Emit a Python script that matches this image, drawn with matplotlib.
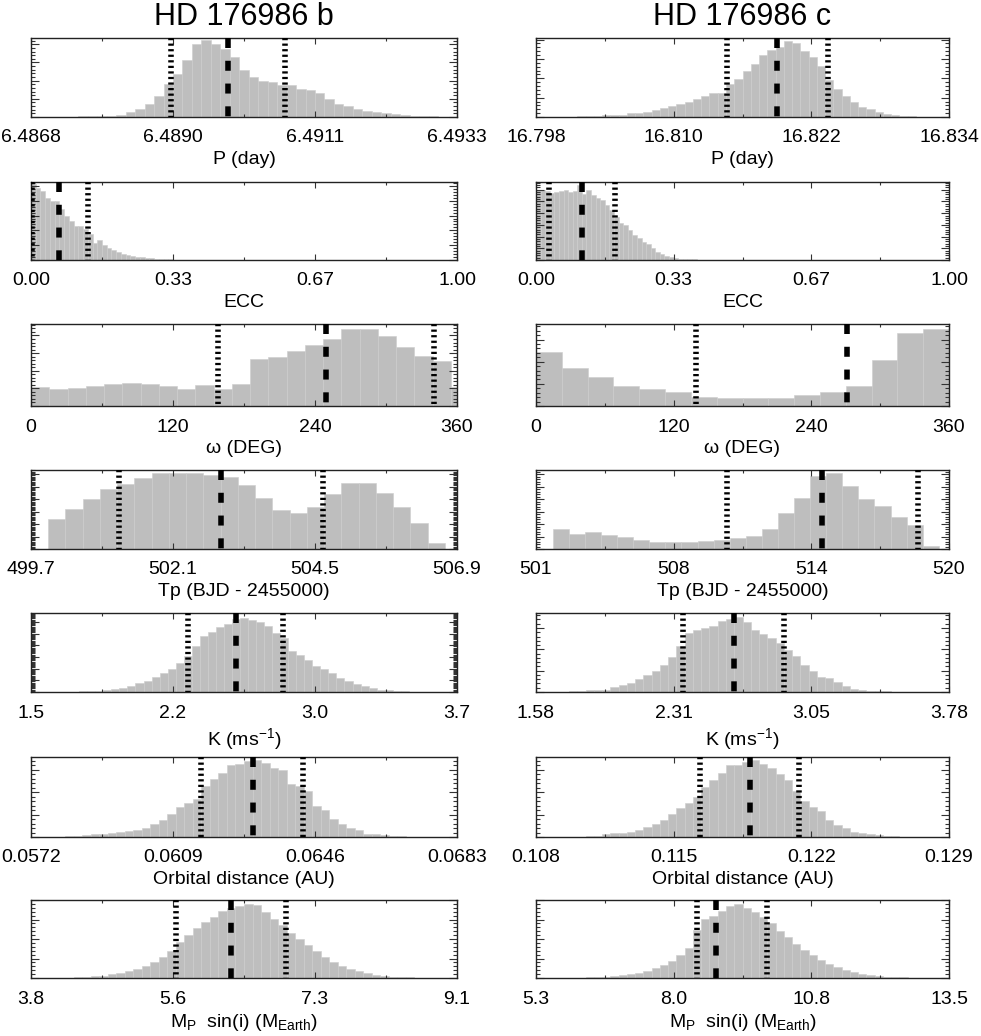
import numpy as np
import matplotlib
matplotlib.use('Agg')
import matplotlib.pyplot as plt
from matplotlib.ticker import MultipleLocator, AutoMinorLocator

plt.rcParams['font.family'] = ['Liberation Sans', 'DejaVu Sans']
plt.rcParams['mathtext.fontset'] = 'custom'
plt.rcParams['mathtext.rm'] = 'Liberation Sans'
plt.rcParams['mathtext.it'] = 'Liberation Sans:italic'

planets = ['HD 176986 b', 'HD 176986 c']
xlabels = ['P (day)', 'ECC', 'ω (DEG)', 'Tp (BJD - 2455000)', 'K (ms$^{-1}$)',
           'Orbital distance (AU)', r'M$_{\rm P}$  sin(i) (M$_{\rm Earth}$)']

# ---- period ----
p_b_range = (6.4868, 6.4933)
p_b_ticks = ['6.4868', '6.4890', '6.4911', '6.4933']
p_b_bins = (6.4868, 0.0065 / 45)
p_b_counts = [0.0, 0.002, 0.003, 0.004, 0.005, 0.007, 0.009, 0.012, 0.016, 0.022,
              0.06, 0.10, 0.165, 0.27, 0.42, 0.54, 0.72, 0.93, 0.97, 0.93,
              0.865, 0.755, 0.60, 0.50, 0.455, 0.44, 0.41, 0.40, 0.36, 0.345,
              0.30, 0.23, 0.17, 0.135, 0.10, 0.075, 0.06, 0.055, 0.04, 0.025,
              0.017, 0.012, 0.008, 0.004]
p_b_lines = (6.48894, 6.48981, 6.49067)

p_c_range = (16.798, 16.834)
p_c_ticks = ['16.798', '16.810', '16.822', '16.834']
p_c_bins = (16.798, 0.00072)
p_c_counts = [0.0, 0.002, 0.003, 0.004, 0.005, 0.007, 0.009, 0.015, 0.02, 0.025,
              0.03, 0.045, 0.05, 0.065, 0.09, 0.12, 0.14, 0.165, 0.195, 0.225,
              0.26, 0.30, 0.31, 0.42, 0.485, 0.58, 0.67, 0.79, 0.85, 0.89,
              0.965, 0.935, 0.83, 0.755, 0.65, 0.47, 0.355, 0.27, 0.185, 0.125,
              0.10, 0.06, 0.035, 0.02, 0.012, 0.008, 0.005, 0.003, 0.002, 0.001]
p_c_lines = (16.81465, 16.81904, 16.82342)

# ---- eccentricity ----
ecc_range = (0.0, 1.0)
ecc_ticks = ['0.00', '0.33', '0.67', '1.00']
ecc_bins = (0.0, 1.0 / 90)
ecc_b_counts = [0.97, 0.92, 0.88, 0.79, 0.76, 0.75, 0.66, 0.56, 0.50, 0.44,
                0.435, 0.40, 0.33, 0.22, 0.25, 0.195, 0.16, 0.13, 0.10, 0.075,
                0.065, 0.045, 0.036, 0.034, 0.026, 0.021, 0.014, 0.01, 0.008, 0.007,
                0.006, 0.005, 0.005, 0.004, 0.004, 0.003, 0.003, 0.003, 0.002, 0.002,
                0.002]
ecc_b_lines = (0.003, 0.0665, 0.1337)
ecc_c_counts = [0.90, 0.90, 0.885, 0.86, 0.87, 0.89, 0.90, 0.875, 0.89, 0.965,
                0.85, 0.90, 0.83, 0.80, 0.765, 0.70, 0.64, 0.55, 0.48, 0.45,
                0.38, 0.32, 0.28, 0.235, 0.20, 0.16, 0.105, 0.077, 0.05, 0.034,
                0.026, 0.017, 0.013, 0.009, 0.007, 0.006, 0.005, 0.004, 0.004, 0.003,
                0.003, 0.002, 0.002, 0.002, 0.001]
ecc_c_lines = (0.032, 0.112, 0.191)

# ---- argument of periastron ----
w_range = (0.0, 360.0)
w_ticks = ['0', '120', '240', '360']
w_b_bins = (0.0, 15.43)
w_b_counts = [0.23, 0.205, 0.215, 0.245, 0.265, 0.275, 0.265, 0.245, 0.205, 0.255,
              0.205, 0.265, 0.575, 0.595, 0.665, 0.74, 0.815, 0.94, 0.94, 0.85,
              0.725, 0.605, 0.55, 0.23]
w_b_lines = (157.9, 249.4, 340.6)
w_c_bins = (0.0, 22.5)
w_c_counts = [0.66, 0.46, 0.355, 0.245, 0.21, 0.175, 0.115, 0.10, 0.095, 0.095,
              0.135, 0.165, 0.24, 0.555, 0.895, 0.945]
w_c_lines = (139.2, 270.8, None)

# ---- time of periastron ----
tp_b_range = (499.7, 506.9)
tp_b_ticks = ['499.7', '502.1', '504.5', '506.9']
tp_b_bins = (499.99, 0.2916)
tp_b_counts = [0.375, 0.505, 0.635, 0.76, 0.825, 0.895, 0.96, 0.965, 0.965, 0.935,
               0.915, 0.81, 0.64, 0.495, 0.45, 0.535, 0.70, 0.83, 0.84, 0.705,
               0.535, 0.335, 0.07]
tp_b_lines = (501.19, 502.91, 504.64)

tp_c_range = (501.4, 519.9)
tp_c_ticks = ['501', '508', '514', '520']
tp_c_bins = (502.15, 0.7205)
tp_c_counts = [0.25, 0.185, 0.21, 0.18, 0.15, 0.115, 0.085, 0.085, 0.09, 0.095,
               0.115, 0.14, 0.16, 0.25, 0.46, 0.65, 0.925, 0.965, 0.80, 0.63,
               0.55, 0.41, 0.305, 0.04]
tp_c_lines = (509.96, 514.23, 518.50)

# ---- semi-amplitude ----
k_b_range = (1.5, 3.7)
k_b_ticks = ['1.5', '2.2', '3.0', '3.7']
k_b_bins = (1.5, 2.2 / 53)
k_b_counts = [0.0, 0.001, 0.002, 0.003, 0.004, 0.006, 0.008, 0.012, 0.017, 0.025,
              0.035, 0.05, 0.075, 0.11, 0.145, 0.19, 0.235, 0.285, 0.37, 0.46,
              0.58, 0.71, 0.76, 0.82, 0.86, 0.93, 0.94, 0.91, 0.88, 0.83,
              0.75, 0.68, 0.52, 0.47, 0.40, 0.33, 0.29, 0.24, 0.18, 0.14,
              0.10, 0.07, 0.045, 0.03, 0.02, 0.013, 0.009, 0.006, 0.004, 0.003,
              0.002, 0.001]
k_b_lines = (2.312, 2.558, 2.802)

k_c_range = (1.58, 3.78)
k_c_ticks = ['1.58', '2.31', '3.05', '3.78']
k_c_bins = (1.58, 0.044)
k_c_counts = [0.0, 0.002, 0.004, 0.006, 0.008, 0.018, 0.02, 0.022, 0.025, 0.065,
              0.09, 0.12, 0.165, 0.215, 0.27, 0.345, 0.44, 0.58, 0.745, 0.78,
              0.805, 0.83, 0.895, 0.93, 0.955, 0.88, 0.78, 0.735, 0.685, 0.62,
              0.535, 0.46, 0.345, 0.26, 0.185, 0.177, 0.125, 0.08, 0.04, 0.03,
              0.017, 0.012, 0.008, 0.005, 0.003, 0.002, 0.001, 0.001]
k_c_lines = (2.365, 2.637, 2.901)

# ---- orbital distance ----
a_b_range = (0.0572, 0.0683)
a_b_ticks = ['0.0572', '0.0609', '0.0646', '0.0683']
a_b_bins = (0.0572, 0.000222)
a_b_counts = [0.0, 0.002, 0.004, 0.006, 0.01, 0.016, 0.025, 0.033, 0.04, 0.055,
              0.06, 0.075, 0.09, 0.115, 0.165, 0.215, 0.285, 0.375, 0.425, 0.48,
              0.635, 0.72, 0.805, 0.905, 0.91, 0.95, 0.96, 0.925, 0.86, 0.84,
              0.665, 0.64, 0.575, 0.39, 0.34, 0.23, 0.16, 0.115, 0.085, 0.04,
              0.033, 0.02, 0.013, 0.008, 0.005, 0.003, 0.002, 0.001]
a_b_lines = (0.061635, 0.06298, 0.06429)

a_c_range = (0.108, 0.129)
a_c_ticks = ['0.108', '0.115', '0.122', '0.129']
a_c_bins = (0.108, 0.00042)
a_c_counts = [0.0, 0.001, 0.002, 0.003, 0.004, 0.006, 0.008, 0.012, 0.033, 0.045,
              0.05, 0.06, 0.085, 0.13, 0.165, 0.215, 0.285, 0.36, 0.425, 0.50,
              0.625, 0.71, 0.80, 0.895, 0.895, 0.94, 0.96, 0.91, 0.865, 0.79,
              0.715, 0.57, 0.45, 0.375, 0.325, 0.215, 0.145, 0.115, 0.06, 0.05,
              0.033, 0.02, 0.013, 0.008, 0.005, 0.003, 0.002, 0.001]
a_c_lines = (0.11634, 0.1189, 0.12139)

# ---- minimum mass ----
m_b_range = (3.8, 9.1)
m_b_ticks = ['3.8', '5.6', '7.3', '9.1']
m_b_bins = (3.8, 0.106)
m_b_counts = [0.0, 0.001, 0.002, 0.003, 0.005, 0.008, 0.012, 0.02, 0.03, 0.045,
              0.065, 0.09, 0.12, 0.16, 0.21, 0.27, 0.35, 0.46, 0.55, 0.64,
              0.72, 0.78, 0.86, 0.90, 0.92, 0.95, 0.93, 0.84, 0.76, 0.68,
              0.58, 0.50, 0.42, 0.34, 0.27, 0.21, 0.16, 0.12, 0.085, 0.06,
              0.04, 0.028, 0.018, 0.012, 0.008, 0.005, 0.003, 0.002, 0.001]
m_b_lines = (5.60, 6.29, 6.97)

m_c_range = (5.3, 13.5)
m_c_ticks = ['5.3', '8.0', '10.8', '13.5']
m_c_bins = (5.3, 0.164)
m_c_counts = [0.0, 0.0, 0.001, 0.002, 0.003, 0.005, 0.008, 0.012, 0.018, 0.025,
              0.035, 0.05, 0.07, 0.095, 0.13, 0.17, 0.22, 0.29, 0.38, 0.62,
              0.76, 0.80, 0.86, 0.92, 0.95, 0.90, 0.85, 0.78, 0.70, 0.60,
              0.52, 0.44, 0.36, 0.29, 0.23, 0.18, 0.135, 0.10, 0.075, 0.055,
              0.04, 0.028, 0.019, 0.012, 0.008, 0.005, 0.003, 0.002, 0.001]
m_c_lines = (8.50, 8.87, 9.89)

# per row: (range, ticks, bins, counts, lines) for b and c
rows = [
    [(p_b_range, p_b_ticks, p_b_bins, p_b_counts, p_b_lines),
     (p_c_range, p_c_ticks, p_c_bins, p_c_counts, p_c_lines)],
    [(ecc_range, ecc_ticks, ecc_bins, ecc_b_counts, ecc_b_lines),
     (ecc_range, ecc_ticks, ecc_bins, ecc_c_counts, ecc_c_lines)],
    [(w_range, w_ticks, w_b_bins, w_b_counts, w_b_lines),
     (w_range, w_ticks, w_c_bins, w_c_counts, w_c_lines)],
    [(tp_b_range, tp_b_ticks, tp_b_bins, tp_b_counts, tp_b_lines),
     (tp_c_range, tp_c_ticks, tp_c_bins, tp_c_counts, tp_c_lines)],
    [(k_b_range, k_b_ticks, k_b_bins, k_b_counts, k_b_lines),
     (k_c_range, k_c_ticks, k_c_bins, k_c_counts, k_c_lines)],
    [(a_b_range, a_b_ticks, a_b_bins, a_b_counts, a_b_lines),
     (a_c_range, a_c_ticks, a_c_bins, a_c_counts, a_c_lines)],
    [(m_b_range, m_b_ticks, m_b_bins, m_b_counts, m_b_lines),
     (m_c_range, m_c_ticks, m_c_bins, m_c_counts, m_c_lines)],
]

# y tick spacing (axis fraction) and minor subdivisions per panel
ystep = [[0.23, 0.245], [0.19, 0.15], [0.215, 0.27], [0.158, 0.158],
         [0.148, 0.27], [0.28, 0.28], [0.25, 0.25]]
yminor = [[5, 5], [5, 5], [5, 5], [10, 5], [10, 5], [5, 5], [5, 5]]

W, H = 981, 1036
row_px = [(38, 117), (182, 260), (324, 406), (470, 549), (613, 692), (757, 837), (900, 978)]
col_px = [(31, 457), (536, 949)]


def draw_panel(ax, panel, xlabel, step, nminor):
    (xmin, xmax), ticks, (start, width), counts, lines = panel
    edges = start + width * np.arange(len(counts))
    ax.bar(edges, counts, width=width, align='edge', color='#bebebe',
           edgecolor='#cdcdcd', linewidth=0.4)
    styles = [(0, (0.4, 0.6)), (0, (1.8, 2.3)), (0, (0.4, 0.6))]
    for v, ls in zip(lines, styles):
        if v is None:
            continue
        ax.plot([v, v], [1, 0], transform=ax.get_xaxis_transform(), color='black',
                lw=4, linestyle=ls, dash_capstyle='butt', zorder=3)
    ax.set_xlim(xmin, xmax)
    ax.set_ylim(0, 1)
    ax.set_xticks(np.linspace(xmin, xmax, 4))
    ax.set_xticklabels(ticks)
    ax.xaxis.set_minor_locator(AutoMinorLocator(2))
    ax.yaxis.set_major_locator(MultipleLocator(step))
    ax.yaxis.set_minor_locator(AutoMinorLocator(nminor))
    ax.tick_params(which='both', direction='in', top=True, right=True,
                   labelleft=False, color='#333333', width=0.8)
    ax.tick_params(axis='x', which='major', length=4, labelsize=14, pad=9)
    ax.tick_params(axis='x', which='minor', length=2.5)
    ax.tick_params(axis='y', which='major', length=6)
    ax.tick_params(axis='y', which='minor', length=3)
    for s in ax.spines.values():
        s.set_linewidth(1.0)
        s.set_color('#222222')
    ax.set_xlabel(xlabel, fontsize=14, labelpad=3)


fig = plt.figure(figsize=(W / 100, H / 100), dpi=100)
for r, (top, bot) in enumerate(row_px):
    for c, (x0, x1) in enumerate(col_px):
        ax = fig.add_axes([x0 / W, 1 - bot / H, (x1 - x0) / W, (bot - top) / H])
        draw_panel(ax, rows[r][c], xlabels[r], ystep[r][c], yminor[r][c])
        if r == 0:
            ax.set_title(planets[c], fontsize=22, pad=9)

fig.savefig('out.png', dpi=100)
